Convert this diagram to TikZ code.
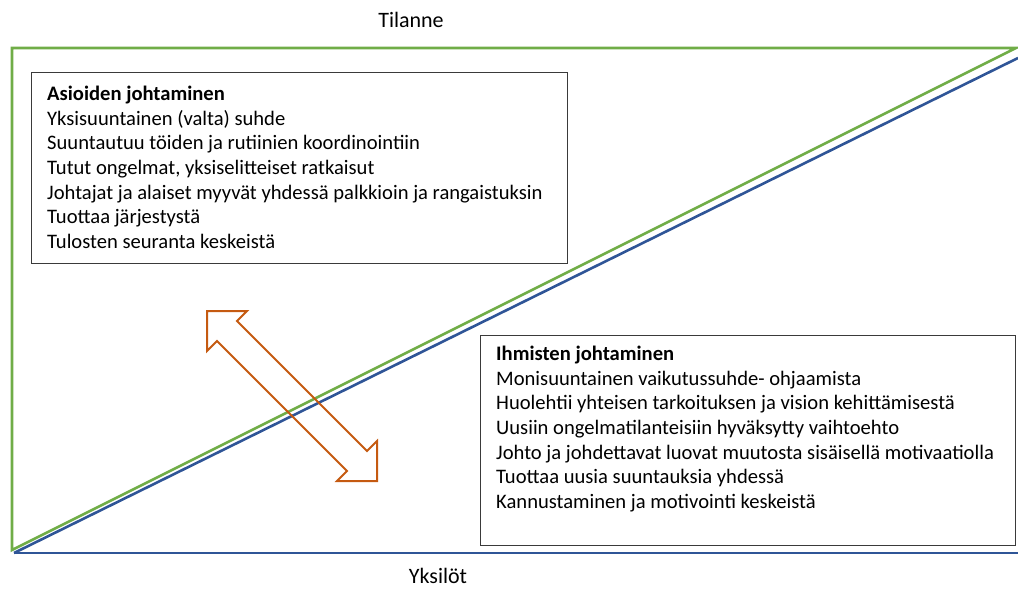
\documentclass[tikz,border=0pt]{standalone}
\usepackage{fontspec}
\setmainfont{Carlito}
\definecolor{lgreen}{HTML}{70AD47}
\definecolor{lblue}{HTML}{2F5597}
\definecolor{lorange}{HTML}{C55A11}
\definecolor{boxgray}{HTML}{3A3A3A}
\begin{document}
\begin{tikzpicture}[x=1pt,y=-1pt,
  gline/.style={draw=lgreen,line width=2.6pt},
  bline/.style={draw=lblue,line width=2.6pt},
  infobox/.style={draw=boxgray,line width=1.4pt,fill=white,anchor=north west,inner sep=0pt},
  infotext/.style={anchor=north west,align=left,inner sep=0pt,font=\fontsize{20.6}{24.6}\selectfont},
  label/.style={font=\fontsize{22}{26}\selectfont,inner sep=0pt},
  arrowline/.style={draw=lorange,line width=2pt,line join=miter}]
\useasboundingbox (0,0) rectangle (1018,589);
% triangles
\coordinate (gTL) at (12,48);
\coordinate (gTR) at (1016,48);
\coordinate (gBL) at (12,550);
\coordinate (bBL) at (14,553);
\coordinate (bBR) at (1018,553);
\coordinate (bTR) at (1018,58);
\draw[gline] (gBL) -- (gTL) -- (gTR) -- cycle;
\draw[bline] (bBL) -- (bBR);
\draw[bline] (bBL) -- (bTR);
% boxes
\node[infobox,minimum width=536pt,minimum height=191pt] (b1) at (31,72) {};
\node[infotext] (t1) at (47,86) {\textbf{Asioiden johtaminen}\\
Yksisuuntainen (valta) suhde\\
Suuntautuu töiden ja rutiinien koordinointiin\\
Tutut ongelmat, yksiselitteiset ratkaisut\\
Johtajat ja alaiset myyvät yhdessä palkkioin ja rangaistuksin\\
Tuottaa järjestystä\\
Tulosten seuranta keskeistä};
\node[infobox,minimum width=535pt,minimum height=210pt] (b2) at (480,335) {};
\node[infotext] (t2) at (496,346) {\textbf{Ihmisten johtaminen}\\
Monisuuntainen vaikutussuhde- ohjaamista\\
Huolehtii yhteisen tarkoituksen ja vision kehittämisestä\\
Uusiin ongelmatilanteisiin hyväksytty vaihtoehto\\
Johto ja johdettavat luovat muutosta sisäisellä motivaatiolla\\
Tuottaa uusia suuntauksia yhdessä\\
Kannustaminen ja motivointi keskeistä};
% labels
\node[label] (tilanne) at (411,20) {Tilanne};
\node[label] (yksilot) at (438,576) {Yksilöt};
% double arrow
\coordinate (a1) at (207,311);
\coordinate (a2) at (247,311);
\coordinate (a3) at (237,321);
\coordinate (a4) at (367,451);
\coordinate (a5) at (377,441);
\coordinate (a6) at (377,481);
\coordinate (a7) at (337,481);
\coordinate (a8) at (347,471);
\coordinate (a9) at (217,341);
\coordinate (a10) at (207,351);
\draw[arrowline] (a1) -- (a2) -- (a3) -- (a4) -- (a5) -- (a6) -- (a7) -- (a8) -- (a9) -- (a10) -- cycle;
\end{tikzpicture}
\end{document}
